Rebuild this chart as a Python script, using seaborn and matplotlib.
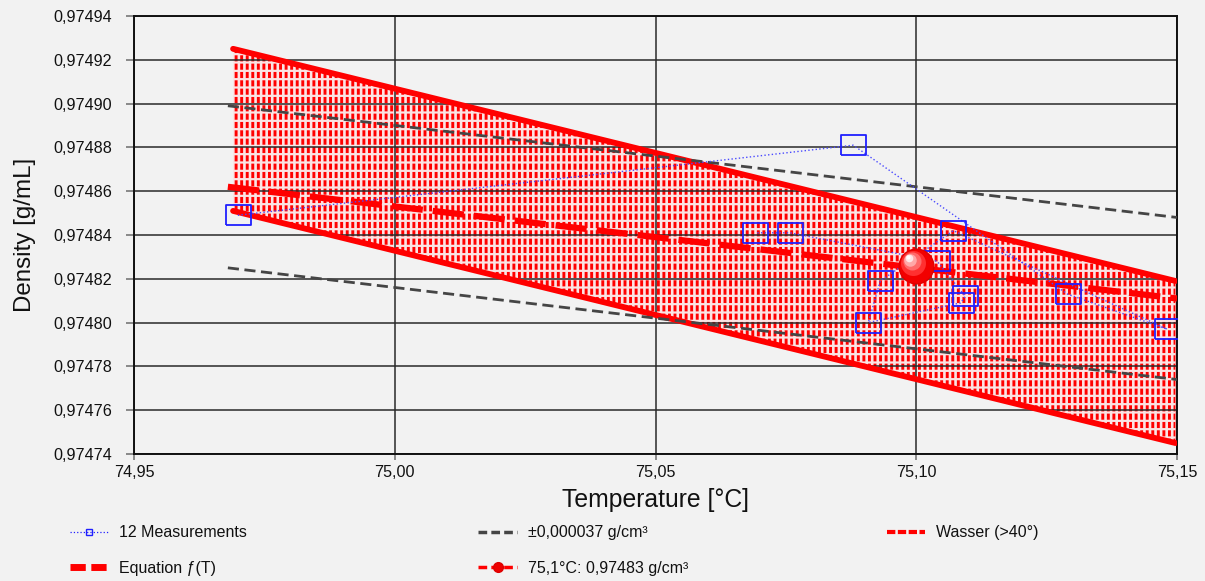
import matplotlib
matplotlib.use('Agg')
import matplotlib.pyplot as plt
import matplotlib.transforms as mtransforms
from matplotlib.lines import Line2D
from matplotlib.ticker import FuncFormatter, MultipleLocator
import seaborn as sns
import numpy as np

# --- Data ---
# measurements in time order (the dotted line joins them in this order)
meas_temp = [74.9699, 75.0879, 75.1290, 75.1481, 75.1071, 75.0931,
             75.0908, 75.1085, 75.1094, 75.1040, 75.0758, 75.0691]
meas_rho = [0.974849, 0.974881, 0.974813, 0.974797, 0.974842, 0.974819,
            0.974800, 0.974809, 0.974812, 0.974828, 0.974841, 0.974841]

# equation f(T) and its +/- 0,000037 band
eq_temp = [74.968, 75.150]
eq_rho = [0.974862, 0.974811]
tol = 0.000037

# Wasser (>40°) reference band
band_temp = [74.969, 75.1497]
band_upper = [0.974925, 0.974819]
band_lower = [0.974851, 0.974745]

# highlighted point
pt_temp = [75.10]
pt_rho = [0.974826]

x_ticks = [74.95, 75.00, 75.05, 75.10, 75.15]

BG = '#f2f2f2'
PINK = '#fbe4e4'

sns.set_theme(style='white', rc={'figure.facecolor': BG, 'axes.facecolor': BG})
plt.rcParams['font.family'] = ['Liberation Sans', 'DejaVu Sans']

fig = plt.figure(figsize=(12.05, 5.81), dpi=100)
ax = fig.add_axes([0.1112, 0.2186, 0.8656, 0.7539])

# Wasser band: pink fill with vertical red dashes
with plt.rc_context({'hatch.linewidth': 2.1}):
    ax.fill_between(band_temp, band_lower, band_upper, facecolor=PINK,
                    edgecolor='red', hatch='|||', linewidth=0, zorder=1)
with plt.rc_context({'hatch.linewidth': 1.6}):
    ax.fill_between(band_temp, band_lower, band_upper, facecolor='none',
                    edgecolor=PINK, hatch='--', linewidth=0, zorder=1.1)
sns.lineplot(x=band_temp, y=band_upper, color='red', lw=4.2, ax=ax, zorder=3)
sns.lineplot(x=band_temp, y=band_lower, color='red', lw=4.2, ax=ax, zorder=3)

# +/- tolerance lines
eq_arr = np.array(eq_rho)
sns.lineplot(x=eq_temp, y=eq_arr + tol, color='#454545', lw=2,
             linestyle=(0, (4, 2)), ax=ax, zorder=4)
sns.lineplot(x=eq_temp, y=eq_arr - tol, color='#454545', lw=2,
             linestyle=(0, (4, 2)), ax=ax, zorder=4)

# equation line
sns.lineplot(x=eq_temp, y=eq_rho, color='red', lw=4.5,
             linestyle=(0, (5, 1.6)), ax=ax, zorder=5)

# measurements
rect = [(-1.3, -1), (1.3, -1), (1.3, 1), (-1.3, 1), (-1.3, -1)]
sns.lineplot(x=meas_temp, y=meas_rho, sort=False, color='#4a4aff', lw=1.0,
             linestyle=':', marker=rect, markersize=18, markerfacecolor='none',
             markeredgecolor='#1f1fff', markeredgewidth=1.3, ax=ax, zorder=6)

# highlighted point (shaded ball)
ax.plot(pt_temp, pt_rho, 'o', ms=25, color='#f20000', mec='#e00000', zorder=7)
shades = [('#ff3030', 18), ('#ff6a6a', 13), ('#ffa8a8', 9), ('#ffe6e6', 5.5), ('white', 3)]
for i, (c, s) in enumerate(shades):
    tr = mtransforms.offset_copy(ax.transData, fig=fig, x=-2.2 - i * 1.0,
                                 y=2.2 + i * 1.0, units='points')
    ax.plot(pt_temp, pt_rho, 'o', ms=s, color=c, mec='none', transform=tr, zorder=7.1 + i * 0.1)

# axes styling
ax.set_xlim(74.95, 75.15)
ax.set_ylim(0.97474, 0.97494)
ax.set_xticks(x_ticks)
ax.yaxis.set_major_locator(MultipleLocator(0.00002))
ax.xaxis.set_major_formatter(FuncFormatter(lambda v, p: f'{v:.2f}'.replace('.', ',')))
ax.yaxis.set_major_formatter(FuncFormatter(lambda v, p: f'{v:.5f}'.replace('.', ',')))
ax.set_axisbelow('line')
ax.grid(True, color='#2a2a2a', lw=1.1)
for s in ax.spines.values():
    s.set_color('#111111')
    s.set_linewidth(1.4)
ax.tick_params(axis='y', which='major', left=True, length=6, width=1.2, color='#777777',
               pad=10, labelsize=11.6, labelcolor='#111111')
ax.tick_params(axis='x', which='major', bottom=True, length=4, width=1.2, color='#777777',
               pad=4, labelsize=11.6, labelcolor='#111111')
ax.set_xlabel('Temperature [°C]', fontsize=17.8, color='#111111', labelpad=6)
ax.set_ylabel('Density [g/mL]', fontsize=17.4, color='#111111', labelpad=12)

# legend (three columns placed by hand)
h_meas = Line2D([], [], color='#2020ff', lw=0.9, linestyle=':', marker='s', ms=5,
                mfc='none', mec='#2020ff')
h_eq = Line2D([], [], color='red', lw=5, linestyle=(0, (2.2, 0.8)))
h_tol = Line2D([], [], color='#454545', lw=2.5, linestyle=(0, (2.5, 1.2)))
h_pt = Line2D([], [], color='red', lw=2.5, linestyle=(0, (2.5, 1.2)), marker='o', ms=7,
              mfc='#ee0000', mec='#dd0000')
h_w = Line2D([], [], color='red', lw=3, linestyle=(0, (2, 0.6)))

leg_kw = dict(loc='upper left', frameon=False, fontsize=11.5, handlelength=2.4,
              handletextpad=0.7, labelspacing=1.3, borderaxespad=0, borderpad=0,
              labelcolor='#111111')
cols = [([h_meas, h_eq], ['12 Measurements', 'Equation ƒ(T)'], 0.058),
        ([h_tol, h_pt], ['±0,000037 g/cm³', '75,1°C: 0,97483 g/cm³'], 0.397),
        ([h_w], ['Wasser (>40°)'], 0.736)]
for hs, ls, xpos in cols:
    fig.legend(hs, ls, bbox_to_anchor=(xpos, 0.096), **leg_kw)

fig.savefig('out.png', dpi=100, facecolor=BG)
